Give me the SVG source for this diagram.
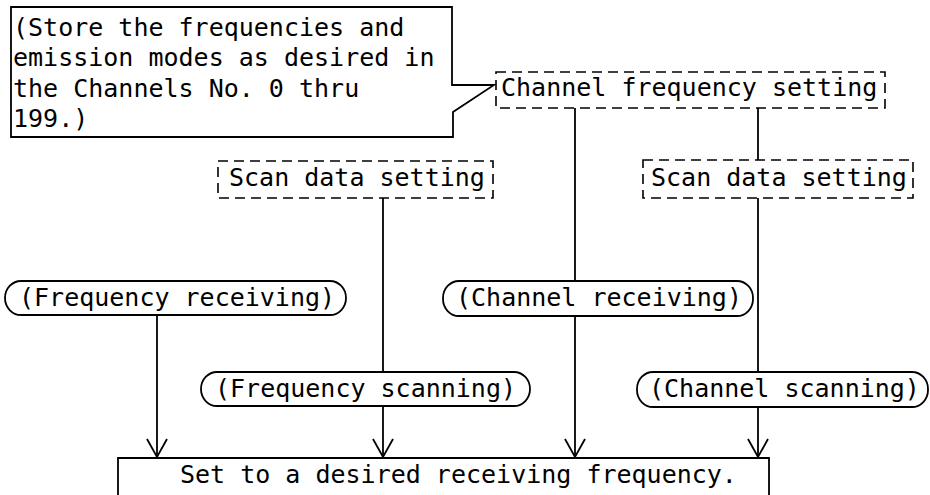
<svg xmlns="http://www.w3.org/2000/svg" width="930" height="495" viewBox="0 0 930 495">
  <defs>
    <marker id="v" markerUnits="userSpaceOnUse" viewBox="-20 -12 24 24" refX="0" refY="0" markerWidth="24" markerHeight="24" orient="auto" overflow="visible">
      <path d="M-18,-10 L0,0 L-18,10" fill="none" stroke="#000" stroke-width="1.8"/>
    </marker>
    <style>
      text { font-family: "DejaVu Sans Mono", "Liberation Mono", monospace; font-size: 25px; fill: #000; }
      .solid { fill: #fff; stroke: #000; stroke-width: 1.8; }
      .dash { fill: #fff; stroke: #000; stroke-width: 1.6; stroke-dasharray: 10 6; }
      .pill { fill: #fff; stroke: #000; stroke-width: 1.8; }
      .conn { fill: none; stroke: #000; stroke-width: 1.8; }
    </style>
  </defs>
  <rect width="930" height="495" fill="#fff"/>

  <g id="connectors">
    <path class="conn" d="M157,315 V457" marker-end="url(#v)"/>
    <path class="conn" d="M383,198 V457" marker-end="url(#v)"/>
    <path class="conn" d="M575,108 V457" marker-end="url(#v)"/>
    <path class="conn" d="M758,108 V457" marker-end="url(#v)"/>
  </g>

  <g id="note">
    <path class="solid" d="M11,7 H452 V85 H494 L453,112 V137 H11 Z"/>
    <text x="13" y="36">(Store the frequencies and</text>
    <text x="13" y="66">emission modes as desired in</text>
    <text x="13" y="97">the Channels No. 0 thru</text>
    <text x="13" y="127">199.)</text>
  </g>

  <g id="channel-frequency-setting">
    <rect class="dash" x="496" y="72" width="389" height="36"/>
    <text x="501" y="96">Channel frequency setting</text>
  </g>

  <g id="scan-data-setting-1">
    <rect class="dash" x="218" y="161" width="275" height="37"/>
    <text x="229" y="186">Scan data setting</text>
  </g>

  <g id="scan-data-setting-2">
    <rect class="dash" x="643" y="160" width="270" height="38"/>
    <text x="651" y="186">Scan data setting</text>
  </g>

  <g id="frequency-receiving">
    <rect class="pill" x="5" y="281" width="341" height="34" rx="16" ry="17"/>
    <text x="19" y="306">(Frequency receiving)</text>
  </g>

  <g id="channel-receiving">
    <rect class="pill" x="443" y="281" width="310" height="35" rx="16" ry="17"/>
    <text x="456" y="306">(Channel receiving)</text>
  </g>

  <g id="frequency-scanning">
    <rect class="pill" x="201" y="372" width="329" height="34" rx="16" ry="17"/>
    <text x="215" y="397">(Frequency scanning)</text>
  </g>

  <g id="channel-scanning">
    <rect class="pill" x="637" y="372" width="291" height="35" rx="16" ry="17"/>
    <text x="649" y="397">(Channel scanning)</text>
  </g>

  <g id="set-frequency">
    <path class="solid" d="M118,500 V458 H769 V500"/>
    <text x="180" y="483">Set to a desired receiving frequency.</text>
  </g>
</svg>
